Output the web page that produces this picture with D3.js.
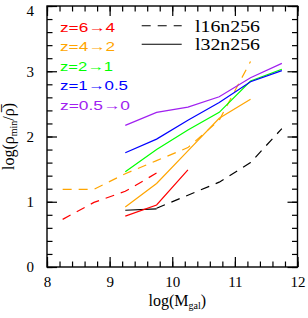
<!DOCTYPE html>
<html><head><meta charset="utf-8">
<script src="https://cdn.jsdelivr.net/npm/d3@7"></script>
<style>
html,body{margin:0;padding:0;background:#fff;}
svg{display:block;}
</style></head>
<body>
<svg id="c" width="308" height="318"></svg>
<script>
// ---- data ----
const massBins = [8.25, 8.75, 9.25, 9.75, 10.25, 10.75, 11.25, 11.75];
const red_l16    = [0.73, 0.99, 1.16, 1.44, null, null, null, null];
const orange_l16 = [1.19, 1.19, 1.43, 1.63, 1.83, 2.25, 3.15, null];
const black_l16  = [null, null, null, 0.90, 1.10, 1.30, 1.60, 2.12];
const red_l32    = [null, null, 0.78, 0.95, 1.49, null, null, null];
const orange_l32 = [null, null, 0.92, 1.28, 1.78, 2.28, 2.57, null];
const green_l32  = [null, null, 1.46, 1.80, 2.10, 2.37, 2.85, 3.03];
const blue_l32   = [null, null, 1.75, 1.96, 2.25, 2.52, 2.84, 3.01];
const purple_l32 = [null, null, 2.17, 2.37, 2.45, 2.61, 2.90, 3.12];
const black_l32  = [null, null, 0.87, 0.89, null, null, null, null];

const xTicks = [8, 9, 10, 11, 12];
const yTicks = [0, 1, 2, 3, 4];
const zLabels = ["z=6\u21924", "z=4\u21922", "z=2\u21921", "z=1\u21920.5", "z=0.5\u21920"];
const zColors = ["#ff0000", "#ffa500", "#00ff00", "#0000ff", "#a020f0"];
const simLabels = ["l16n256", "l32n256"];

// ---- layout ----
const svg = d3.select("#c");
const L = 47, R = 297.5, T = 6, B = 267;
const x = d3.scaleLinear().domain([8, 12]).range([L, R]);
const y = d3.scaleLinear().domain([0, 4]).range([B, T]);

const series = [
  {v: black_l32, c: "#000", dash: null},
  {v: black_l16, c: "#000", dash: "9,7"},
  {v: red_l16, c: zColors[0], dash: "9,7"},
  {v: orange_l16, c: zColors[1], dash: "9,7"},
  {v: red_l32, c: zColors[0], dash: null},
  {v: orange_l32, c: zColors[1], dash: null},
  {v: green_l32, c: zColors[2], dash: null},
  {v: blue_l32, c: zColors[3], dash: null},
  {v: purple_l32, c: zColors[4], dash: null},
];

const line = d3.line()
  .defined(d => d[1] != null)
  .x(d => x(d[0])).y(d => y(d[1]));

series.forEach(s => {
  svg.append("path")
    .datum(massBins.map((m, i) => [m, s.v[i]]))
    .attr("d", line)
    .attr("fill", "none")
    .attr("stroke", s.c)
    .attr("stroke-width", 1.2)
    .attr("stroke-dasharray", s.dash);
});

// ---- axes ----
const minorX = d3.range(8, 12.001, 0.2);
const minorY = d3.range(0, 4.001, 0.2);
function styleAxis(g) {
  g.select(".domain").remove();
  g.selectAll("line").attr("stroke", "#000").attr("stroke-width", 1.2);
  g.selectAll("text").attr("font-family", "Liberation Serif, serif").attr("font-size", 15).attr("fill", "#000");
}
// bottom
svg.append("g").attr("transform", `translate(0,${B})`)
  .call(d3.axisBottom(x).tickValues(minorX).tickSize(-5.5).tickFormat("")).call(styleAxis);
svg.append("g").attr("transform", `translate(0,${B})`)
  .call(d3.axisBottom(x).tickValues(xTicks).tickSize(-10).tickPadding(9).tickFormat(d3.format("d"))).call(styleAxis);
// top
svg.append("g").attr("transform", `translate(0,${T})`)
  .call(d3.axisTop(x).tickValues(minorX).tickSize(-5.5).tickFormat("")).call(styleAxis);
svg.append("g").attr("transform", `translate(0,${T})`)
  .call(d3.axisTop(x).tickValues(xTicks).tickSize(-10).tickFormat("")).call(styleAxis);
// left
svg.append("g").attr("transform", `translate(${L},0)`)
  .call(d3.axisLeft(y).tickValues(minorY).tickSize(-5.5).tickFormat("")).call(styleAxis);
const yAx = svg.append("g").attr("transform", `translate(${L},0)`)
  .call(d3.axisLeft(y).tickValues(yTicks).tickSize(-10).tickPadding(13).tickFormat(d3.format("d"))).call(styleAxis);
// keep the top label inside the picture
yAx.selectAll(".tick text").filter(d => d === 4).attr("dy", "0.62em");
// right
svg.append("g").attr("transform", `translate(${R},0)`)
  .call(d3.axisRight(y).tickValues(minorY).tickSize(-5.5).tickFormat("")).call(styleAxis);
svg.append("g").attr("transform", `translate(${R},0)`)
  .call(d3.axisRight(y).tickValues(yTicks).tickSize(-10).tickFormat("")).call(styleAxis);

// frame
svg.append("rect").attr("x", L).attr("y", T).attr("width", R - L).attr("height", B - T)
  .attr("fill", "none").attr("stroke", "#000").attr("stroke-width", 1.4);

// ---- z legend ----
const zTextLen = [55, 55, 53, 68, 70];
zLabels.forEach((t, i) => {
  svg.append("text")
    .attr("x", 60).attr("y", 31.5 + i * 19.6)
    .attr("font-family", "Liberation Sans, Arial, sans-serif")
    .attr("font-size", 13)
    .attr("fill", zColors[i])
    .attr("textLength", zTextLen[i])
    .attr("lengthAdjust", "spacingAndGlyphs")
    .text(t);
});

// ---- simulation legend ----
simLabels.forEach((t, i) => {
  const yy = 25.7 + i * 18.6;
  svg.append("line").attr("x1", 141.7).attr("x2", 181.7).attr("y1", yy).attr("y2", yy)
    .attr("stroke", "#000").attr("stroke-width", 1.1)
    .attr("stroke-dasharray", i === 0 ? "9,7" : null);
  svg.append("text")
    .attr("x", 195).attr("y", yy + 6)
    .attr("font-family", "Liberation Serif, serif")
    .attr("font-size", 16)
    .attr("textLength", 65)
    .attr("lengthAdjust", "spacingAndGlyphs")
    .text(t);
});

// ---- axis titles ----
const xt = svg.append("text")
  .attr("x", (L + R) / 2 + 5).attr("y", 305.5)
  .attr("text-anchor", "middle")
  .attr("font-family", "Liberation Serif, serif").attr("font-size", 16);
xt.append("tspan").text("log(M");
xt.append("tspan").attr("font-size", 10).attr("dy", 3).text("gal");
xt.append("tspan").attr("dy", -3).text(")");

const yt = svg.append("text")
  .attr("transform", `translate(14,${(T + B) / 2}) rotate(-90)`)
  .attr("text-anchor", "middle")
  .attr("font-family", "Liberation Serif, serif").attr("font-size", 16);
yt.append("tspan").text("log(\u03C1");
yt.append("tspan").attr("font-size", 10).attr("dy", 3).text("min");
yt.append("tspan").attr("dy", -3).text("/\u03C1\u0305)");
</script>
</body></html>
